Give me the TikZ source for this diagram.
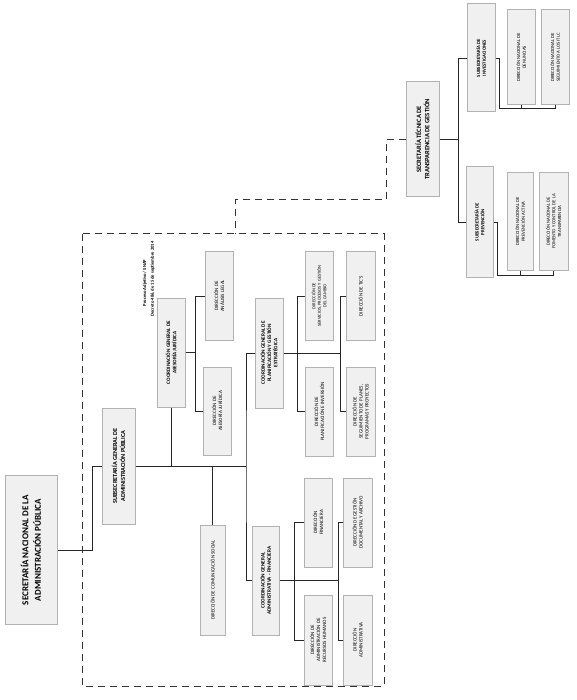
\documentclass[tikz,border=0pt]{standalone}
\usepackage{fontspec}
\setmainfont{Carlito}
\usetikzlibrary{calc}
\begin{document}
\begin{tikzpicture}[x=1pt,y=-1pt,
  box/.style={draw=gray!60, fill=gray!12, line width=1pt, rotate=90, align=center, inner sep=1pt},
  dirf/.style={font=\fontsize{5}{6}\selectfont},
  coordf/.style={font=\fontsize{5.2}{6.3}\selectfont\bfseries},
  conn/.style={line width=0.8pt, draw=black!85},
  dsh/.style={line width=1pt, dash pattern=on 7pt off 5pt, draw=black!80}]
\useasboundingbox (0,0) rectangle (576,700);
\fill[white] (0,0) rectangle (576,700);

% dashed frame
\draw[dsh] (82,234) rectangle (384,686);
\coordinate (dtop) at (235,234);

% top levels
\node[box, minimum width=149pt, minimum height=52pt, font=\fontsize{9}{12.5}\selectfont\bfseries] (snap) at (31,550) {SECRETARÍA NACIONAL DE LA\\ADMINISTRACIÓN PÚBLICA};
\node[box, minimum width=116pt, minimum height=33pt, font=\fontsize{6.2}{8}\selectfont\bfseries] (subgen) at (118.5,466) {SUBSECRETARÍA GENERAL DE\\ADMINISTRACIÓN PÚBLICA};

% coordinations
\node[box, coordf, minimum width=109pt, minimum height=28pt] (cjur) at (171,352.5) {COORDINACIÓN GENERAL DE\\ASESORÍA JURÍDICA};
\node[box, coordf, minimum width=110pt, minimum height=28pt] (cplan) at (269,353) {COORDINACIÓN GENERAL DE\\PLANIFICACIÓN Y GESTIÓN\\ESTRATÉGICA};
\node[box, coordf, minimum width=109pt, minimum height=27pt] (cadm) at (265.5,580.5) {COORDINACIÓN GENERAL\\ADMINISTRATIVA - FINANCIERA};
\node[box, dirf, minimum width=110pt, minimum height=25pt] (dcom) at (212.5,580) {DIRECCIÓN DE COMUNICACIÓN SOCIAL};

% directions (juridica)
\node[box, dirf, minimum width=88pt, minimum height=28pt] (dlegal) at (219,296) {DIRECCIÓN DE\\ANÁLISIS LEGAL};
\node[box, dirf, minimum width=88pt, minimum height=28pt] (dasej) at (217,411) {DIRECCIÓN DE\\ASESORÍA JURÍDICA};

% directions (planificacion)
\node[box, font=\fontsize{4.5}{5.6}\selectfont, minimum width=88pt, minimum height=28pt] (dserv) at (319,296) {DIRECCIÓN DE\\SERVICIOS, PROCESOS Y GESTIÓN\\DEL CAMBIO};
\node[box, dirf, minimum width=88pt, minimum height=29pt] (dtic) at (360.5,296) {DIRECCIÓN DE TIC'S};
\node[box, dirf, minimum width=89pt, minimum height=28pt] (dplan) at (319,411.5) {DIRECCIÓN DE\\PLANIFICACIÓN E INVERSIÓN};
\node[box, dirf, minimum width=89pt, minimum height=29pt] (dseg) at (360.5,411.5) {DIRECCIÓN DE\\SEGUIMIENTO DE PLANES,\\PROGRAMAS Y PROYECTOS};

% directions (administrativa)
\node[box, dirf, minimum width=89pt, minimum height=28pt] (dfin) at (318,522.5) {DIRECCIÓN\\FINANCIERA};
\node[box, dirf, minimum width=89pt, minimum height=29pt] (dgest) at (357.5,522.5) {DIRECCIÓN DE GESTIÓN\\DOCUMENTAL Y ARCHIVO};
\node[box, dirf, minimum width=90pt, minimum height=28pt] (drrhh) at (318,640) {DIRECCIÓN DE\\ADMINISTRACIÓN DE\\RECURSOS HUMANOS};
\node[box, dirf, minimum width=90pt, minimum height=29pt] (dadm) at (357.5,640) {DIRECCIÓN\\ADMINISTRATIVA};

% secretaria tecnica
\node[box, minimum width=115pt, minimum height=33pt, font=\fontsize{6.6}{8.4}\selectfont\bfseries] (stec) at (422.5,139.5) {SECRETARÍA TÉCNICA DE\\TRANSPARENCIA DE GESTIÓN};
\node[box, minimum width=108pt, minimum height=28pt, font=\fontsize{4.8}{5.8}\selectfont\bfseries] (sinv) at (481,58) {SUBSECRETARÍA DE\\INVESTIGACIONES};
\node[box, font=\fontsize{4.7}{5.7}\selectfont, minimum width=95pt, minimum height=28pt] (dden) at (521,57.5) {DIRECCIÓN NACIONAL DE\\DENUNCIAS};
\node[box, font=\fontsize{4.7}{5.7}\selectfont, minimum width=95pt, minimum height=28pt] (dsitlc) at (555,57.5) {DIRECCIÓN NACIONAL DE\\SEGUIMIENTO A LOS ITLC};
\node[box, minimum width=110pt, minimum height=27pt, font=\fontsize{4.8}{5.8}\selectfont\bfseries] (sprev) at (479.5,222) {SUBSECRETARÍA DE\\PREVENCIÓN};
\node[box, font=\fontsize{4.7}{5.7}\selectfont, minimum width=97pt, minimum height=26pt] (dpa) at (520,221.5) {DIRECCIÓN NACIONAL DE\\PREVENCIÓN ACTIVA};
\node[box, font=\fontsize{4.7}{5.7}\selectfont, minimum width=97pt, minimum height=29pt] (dfom) at (553.5,221.5) {DIRECCIÓN NACIONAL DE\\FOMENTO Y CONTROL DE LA\\TRANSPARENCIA};

% decree text
\node[rotate=90, font=\fontsize{4.6}{5}\selectfont\bfseries, inner sep=0pt] (proc) at (145,283) {Proceso Adjetivo / SNAP};
\node[rotate=90, font=\fontsize{4.6}{5}\selectfont\bfseries, inner sep=0pt] (decr) at (152.5,279) {Decreto 486, de 15 de septiembre 2014};

% connectors
\draw[conn] (snap.south) -- ++(35,0) |- (subgen.north);
\coordinate (busend) at (246,466);
\draw[conn] (subgen.south) -- (busend);
\draw[conn] (cjur.west) |- (subgen.south);
\draw[conn] (dcom.east) |- (subgen.south);
\draw[conn] (cplan.north) -| (busend) |- (cadm.north);

\draw[conn] (cjur.south) -- ++(10,0);
\draw[conn] (dlegal.north) -| ($(cjur.south)+(10,0)$) |- (dasej.north);

\draw[conn] (cplan.south) -- ++(57,0);
\draw[conn] (dserv.north) -| ($(cplan.south)+(14,0)$) |- (dplan.north);
\draw[conn] (dtic.north) -| ($(cplan.south)+(57,0)$) |- (dseg.north);

\draw[conn] (cadm.south) -- ++(59,0);
\draw[conn] (dfin.north) -| ($(cadm.south)+(15,0)$) |- (drrhh.north);
\draw[conn] (dgest.north) -| ($(cadm.south)+(59,0)$) |- (dadm.north);

\draw[conn] (stec.south) -- ++(19,0);
\draw[conn] (sinv.north) -| ($(stec.south)+(19,0)$) |- (sprev.north);

\draw[conn] (sinv.south) -- ++(4,0) |- ($(dsitlc.west)+(0,3)$) -- (dsitlc.west);
\draw[conn] (dden.west) -- ++(0,3);
\draw[conn] (sprev.south) -- ++(4,0) |- ($(dfom.west)+(0,5)$) -- (dfom.west);
\draw[conn] (dpa.west) -- ++(0,5);

% dashed link to the technical secretariat
\draw[dsh] (stec.north) -- ++(-19,0) -- ++(0,60.5) -| (dtop);
\end{tikzpicture}
\end{document}
